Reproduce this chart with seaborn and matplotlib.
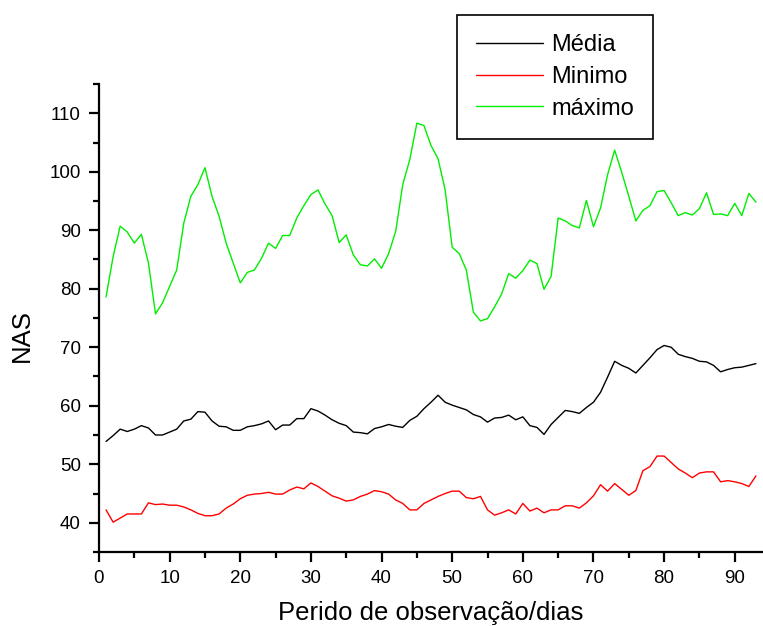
import numpy as np
import pandas as pd
import matplotlib
matplotlib.use("Agg")
import matplotlib.pyplot as plt
import seaborn as sns
from matplotlib.ticker import MultipleLocator

dias = list(range(1, 94))

media = [53.9, 54.9, 56.0, 55.6, 56.0, 56.6, 56.2, 55.0, 55.0, 55.5,
         56.0, 57.4, 57.7, 59.0, 58.9, 57.4, 56.5, 56.4, 55.8, 55.8,
         56.4, 56.6, 56.9, 57.4, 55.9, 56.7, 56.7, 57.8, 57.8, 59.5,
         59.1, 58.4, 57.6, 57.0, 56.6, 55.5, 55.4, 55.2, 56.1, 56.4,
         56.8, 56.5, 56.3, 57.5, 58.2, 59.5, 60.6, 61.8, 60.6, 60.1,
         59.7, 59.3, 58.5, 58.1, 57.2, 57.9, 58.0, 58.4, 57.6, 58.1,
         56.6, 56.3, 55.1, 56.8, 58.0, 59.2, 59.0, 58.7, 59.7, 60.6,
         62.3, 64.9, 67.6, 66.9, 66.4, 65.6, 66.9, 68.2, 69.6, 70.3,
         70.0, 68.8, 68.4, 68.1, 67.6, 67.5, 66.9, 65.8, 66.2, 66.5,
         66.6, 66.9, 67.2]

minimo = [42.2, 40.1, 40.8, 41.5, 41.5, 41.5, 43.4, 43.1, 43.2, 43.0,
          43.0, 42.7, 42.2, 41.6, 41.2, 41.2, 41.5, 42.5, 43.2, 44.1,
          44.7, 44.9, 45.0, 45.2, 44.9, 44.9, 45.6, 46.1, 45.8, 46.8,
          46.2, 45.4, 44.6, 44.2, 43.7, 43.9, 44.5, 44.9, 45.5, 45.3,
          44.9, 43.9, 43.3, 42.2, 42.2, 43.3, 43.9, 44.5, 45.0, 45.4,
          45.4, 44.3, 44.1, 44.5, 42.2, 41.3, 41.7, 42.2, 41.5, 43.3,
          42.0, 42.5, 41.7, 42.2, 42.2, 42.9, 42.9, 42.5, 43.4, 44.6,
          46.5, 45.4, 46.7, 45.7, 44.7, 45.5, 48.9, 49.6, 51.4, 51.4,
          50.3, 49.2, 48.5, 47.7, 48.5, 48.7, 48.7, 47.0, 47.2, 47.0,
          46.7, 46.2, 48.0]

maximo = [78.6, 85.5, 90.7, 89.7, 87.8, 89.3, 84.4, 75.7, 77.6, 80.4,
          83.2, 91.2, 95.8, 97.8, 100.7, 95.8, 92.4, 87.8, 84.4, 81.0,
          82.8, 83.2, 85.2, 87.8, 86.9, 89.1, 89.1, 92.1, 94.2, 96.1,
          96.9, 94.5, 92.5, 87.9, 89.2, 85.8, 84.1, 83.9, 85.1, 83.5,
          86.0, 89.8, 97.8, 102.1, 108.3, 107.9, 104.5, 102.2, 96.9, 87.1,
          86.0, 83.2, 76.0, 74.5, 74.9, 76.9, 79.1, 82.6, 81.8, 83.1,
          84.9, 84.3, 79.9, 82.1, 92.1, 91.6, 90.8, 90.4, 95.1, 90.6,
          93.8, 99.5, 103.7, 99.9, 95.8, 91.6, 93.4, 94.2, 96.6, 96.8,
          94.7, 92.5, 93.0, 92.6, 93.7, 96.4, 92.7, 92.8, 92.5, 94.6,
          92.5, 96.3, 94.8]

series_names = ["Média", "Minimo", "máximo"]
series_colors = ["#000000", "#ff0000", "#00ee00"]

df = pd.DataFrame({
    "dia": dias * 3,
    "valor": media + minimo + maximo,
    "serie": [series_names[0]] * len(dias) + [series_names[1]] * len(dias) + [series_names[2]] * len(dias),
})

sns.set_style("ticks")
plt.rcParams["font.family"] = ["Liberation Sans", "DejaVu Sans"]
plt.rcParams["text.color"] = "black"
plt.rcParams["axes.labelcolor"] = "black"
plt.rcParams["xtick.color"] = "black"
plt.rcParams["ytick.color"] = "black"

fig = plt.figure(figsize=(7.63, 6.26), dpi=100)
ax = fig.add_axes([99 / 763, 1 - 552 / 626, 664 / 763, (552 - 84) / 626])

sns.lineplot(data=df, x="dia", y="valor", hue="serie", hue_order=series_names,
             palette=series_colors, linewidth=1.0, ax=ax, legend=True)

ax.set_xlim(0, 94)
ax.set_ylim(35, 115)
ax.xaxis.set_major_locator(MultipleLocator(10))
ax.xaxis.set_minor_locator(MultipleLocator(5))
ax.yaxis.set_minor_locator(MultipleLocator(5))
ax.set_yticks(range(40, 111, 10))

for side in ["top", "right"]:
    ax.spines[side].set_visible(False)
for side in ["left", "bottom"]:
    ax.spines[side].set_linewidth(1.6)
    ax.spines[side].set_color("black")

ax.tick_params(which="major", direction="out", length=7, width=1.6, labelsize=13.5,
               colors="black", labelcolor="black", pad=6)
ax.tick_params(which="minor", direction="out", length=4, width=1.6, colors="black")

ax.set_xlabel("Perido de observação/dias", fontsize=18.5, color="black")
ax.xaxis.label.set_va("baseline")
ax.xaxis.set_label_coords(0.5, (552 - 620) / 468)

ax.set_ylabel("NAS", fontsize=18.5, color="black")
ax.yaxis.label.set_va("center")
ax.yaxis.set_label_coords((22 - 99) / 664, (552 - 336) / 468)

handles, labels = ax.get_legend_handles_labels()
leg = ax.legend(handles, labels, loc="upper left",
                bbox_to_anchor=(457 / 763, 1 - 15 / 626), bbox_transform=fig.transFigure,
                fontsize=17, frameon=True, fancybox=False, edgecolor="black",
                framealpha=1, borderpad=0.8, handlelength=2.85, handletextpad=0.35,
                labelspacing=0.42, borderaxespad=0)
leg.get_frame().set_linewidth(1.2)
for t in leg.get_texts():
    t.set_color("black")

fig.savefig("out.png", dpi=100)
